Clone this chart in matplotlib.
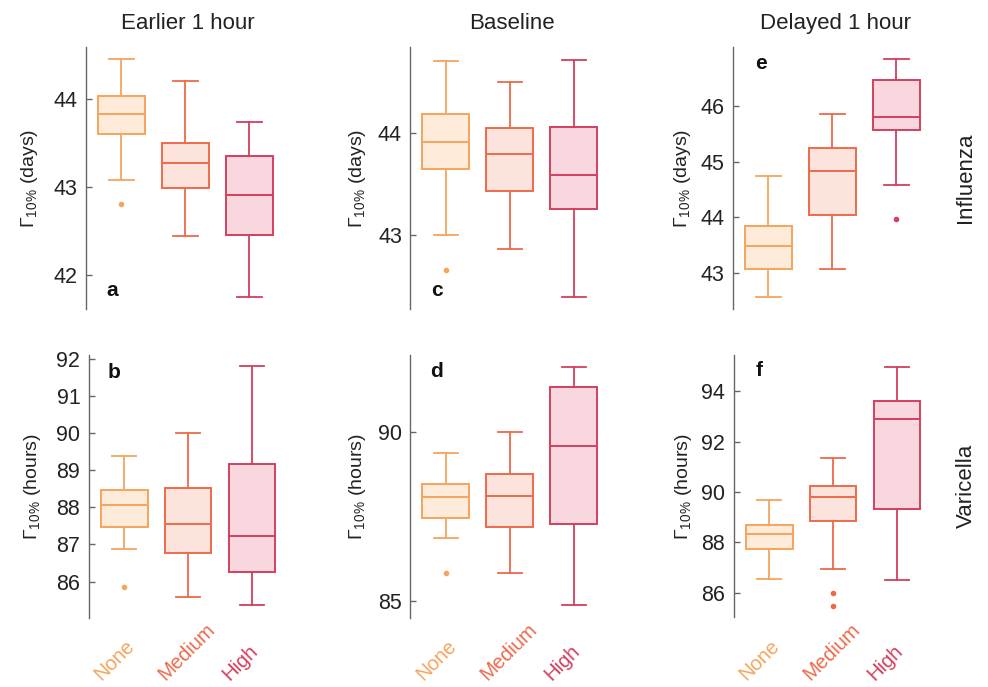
import matplotlib
matplotlib.use("Agg")
import matplotlib.pyplot as plt
from matplotlib.transforms import ScaledTranslation

plt.rcParams['font.family'] = ['Liberation Sans', 'DejaVu Sans']
plt.rcParams['mathtext.fontset'] = 'custom'
plt.rcParams['mathtext.rm'] = 'Liberation Sans'
plt.rcParams['mathtext.it'] = 'Liberation Sans:italic'
plt.rcParams['mathtext.bf'] = 'Liberation Sans:bold'

groups = ['None', 'Medium', 'High']
edge_colors = ['#F5A55E', '#EE6A4B', '#D43F5D']
fill_colors = ['#FEEBDA', '#FCE3DB', '#F8D7DE']

columns = ['Earlier 1 hour', 'Baseline', 'Delayed 1 hour']
rows = ['Influenza', 'Varicella']

# per group: whisker low, q1, median, q3, whisker high
flu_early = [[43.08, 43.61, 43.83, 44.04, 44.46],
             [42.44, 42.99, 43.27, 43.50, 44.21],
             [41.75, 42.46, 42.91, 43.36, 43.74]]
flu_early_out = [[42.81], [], []]

flu_base = [[43.00, 43.65, 43.91, 44.18, 44.70],
            [42.87, 43.43, 43.79, 44.05, 44.50],
            [42.40, 43.26, 43.59, 44.06, 44.71]]
flu_base_out = [[42.66], [], []]

flu_late = [[42.57, 43.08, 43.49, 43.85, 44.75],
            [43.07, 44.04, 44.83, 45.25, 45.86],
            [44.58, 45.58, 45.80, 46.47, 46.85]]
flu_late_out = [[], [], [43.97]]

var_early = [[86.88, 87.47, 88.06, 88.46, 89.39],
             [85.58, 86.78, 87.55, 88.52, 90.00],
             [85.37, 86.26, 87.24, 89.18, 91.80]]
var_early_out = [[85.86], [], []]

var_base = [[86.86, 87.47, 88.07, 88.45, 89.38],
            [85.83, 87.20, 88.12, 88.75, 90.00],
            [84.87, 87.27, 89.59, 91.33, 91.92]]
var_base_out = [[85.84], [], []]

var_late = [[86.54, 87.72, 88.35, 88.68, 89.69],
            [86.93, 88.86, 89.80, 90.24, 91.36],
            [86.52, 89.33, 92.89, 93.60, 94.98]]
var_late_out = [[], [85.98, 85.48], []]

panels = [
    # data, outliers, letter, ylim, yticks, unit
    (flu_early, flu_early_out, 'a', (41.61, 44.60), [42, 43, 44], 'days'),
    (flu_base, flu_base_out, 'c', (42.28, 44.84), [43, 44], 'days'),
    (flu_late, flu_late_out, 'e', (42.35, 47.07), [43, 44, 45, 46], 'days'),
    (var_early, var_early_out, 'b', (85.03, 92.11), [86, 87, 88, 89, 90, 91, 92], 'hours'),
    (var_base, var_base_out, 'd', (84.51, 92.28), [85, 90], 'hours'),
    (var_late, var_late_out, 'f', (85.02, 95.44), [86, 88, 90, 92, 94], 'hours'),
]

W, H = 988, 687
fig = plt.figure(figsize=(W / 100, H / 100), dpi=100)

lefts = [[86, 410.3, 733], [88.7, 410.3, 733.7]]
tops = [46.7, 355]
ax_h = 262.5
ax_w = 204
letter_pos = {'a': (0.13, 0.07), 'c': (0.133, 0.073), 'e': (0.135, 0.936),
              'b': (0.124, 0.932), 'd': (0.128, 0.938), 'f': (0.127, 0.94)}
label_x = [-0.225, -0.207, -0.196]

for k, (data, outs, letter, ylim, yticks, unit) in enumerate(panels):
    r, c = divmod(k, 3)
    left = lefts[r][c]
    ax = fig.add_axes([left / W, 1 - (tops[r] + ax_h) / H, ax_w / W, ax_h / H])
    stats = []
    for g in range(3):
        lo, q1, med, q3, hi = data[g]
        stats.append(dict(whislo=lo, q1=q1, med=med, q3=q3, whishi=hi, fliers=outs[g]))
    arts = ax.bxp(stats, positions=[1, 2, 3], widths=0.73, capwidths=0.38,
                  patch_artist=True, showfliers=True)
    for g in range(3):
        ec = edge_colors[g]
        arts['boxes'][g].set(facecolor=fill_colors[g], edgecolor=ec, linewidth=1.4)
        arts['medians'][g].set(color=ec, linewidth=1.4)
        for ln in arts['whiskers'][2 * g:2 * g + 2] + arts['caps'][2 * g:2 * g + 2]:
            ln.set(color=ec, linewidth=1.3)
        arts['fliers'][g].set(marker='o', markerfacecolor=ec, markeredgecolor=ec,
                              markersize=3.0, linestyle='none')
    ax.set_xlim(0.445, 3.635)
    ax.set_ylim(*ylim)
    ax.set_yticks(yticks)
    ax.set_yticklabels([str(t) for t in yticks])
    ax.set_xticks([])
    for s in ['top', 'right', 'bottom']:
        ax.spines[s].set_visible(False)
    ax.spines['left'].set_color('#666666')
    ax.spines['left'].set_linewidth(1.0)
    ax.tick_params(axis='y', direction='in', length=4.5, width=1.0, color='#666666',
                   labelsize=15.5, labelcolor='#222222', pad=6)
    ax.patch.set_alpha(0)
    ax.set_ylabel(r'$\Gamma_{\mathrm{10\%}}$ (' + unit + ')', fontsize=14, color='#222222')
    ax.yaxis.set_label_coords(label_x[c], 0.5)
    lx, ly = letter_pos[letter]
    ax.text(lx, ly, letter, transform=ax.transAxes, fontsize=15, fontweight='bold',
            ha='center', va='center', color='#111111')
    if r == 0:
        ax.set_title(columns[c], fontsize=16, color='#222222', pad=13)
    if c == 2:
        ax.text(1.14, 0.5, rows[r], transform=ax.transAxes, rotation=90,
                fontsize=16, ha='center', va='center', color='#222222')
    if r == 1:
        shift = ax.get_xaxis_transform() + ScaledTranslation(-0.33, 0, fig.dpi_scale_trans)
        for g in range(3):
            ax.text(g + 1, -0.252, groups[g], transform=shift, rotation=45,
                    ha='left', va='bottom', fontsize=14.5, color=edge_colors[g])

fig.savefig('out.png', dpi=100)
